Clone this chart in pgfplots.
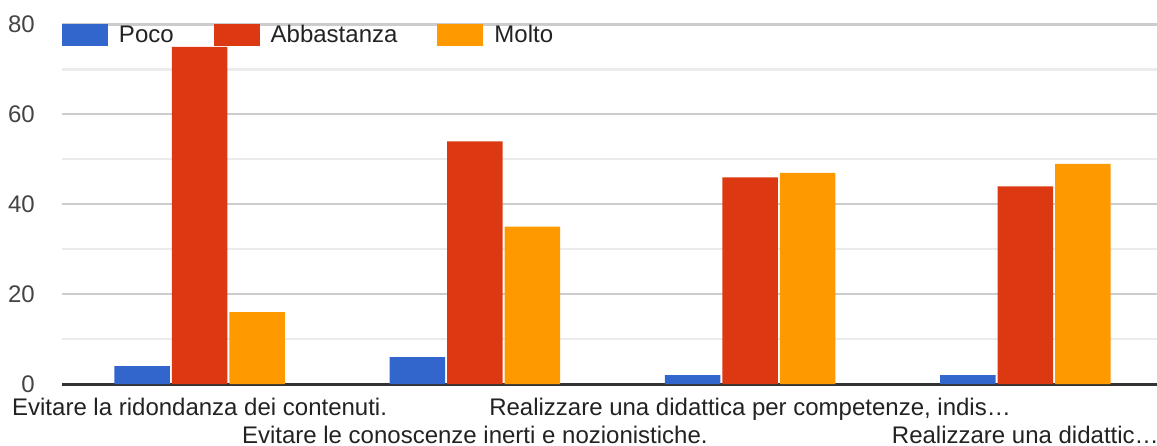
\documentclass[border=0pt]{standalone}
\usepackage{fontspec}
\setmainfont{Liberation Sans}
\usepackage{pgfplots}
\pgfplotsset{compat=1.18}
\definecolor{cPoco}{HTML}{3366CC}
\definecolor{cAbb}{HTML}{DC3912}
\definecolor{cMolto}{HTML}{FF9900}
\definecolor{gridmaj}{HTML}{CCCCCC}
\definecolor{gridmin}{HTML}{EBEBEB}
\definecolor{baseline}{HTML}{333333}
\definecolor{txt}{HTML}{222222}
\definecolor{ticktxt}{HTML}{444444}
\newcommand\F{\fontsize{24}{28}\selectfont}
\begin{document}
\begin{tikzpicture}
\useasboundingbox (-62pt,-61pt) rectangle (1095pt,384pt);
\begin{axis}[
  scale only axis, width=1101pt, height=359.5pt,
  ymin=0, ymax=80, xmin=-0.5, xmax=3.5,
  ybar=2pt, bar width=55.5pt,
  axis line style={draw=none},
  major tick length=0pt, minor tick length=0pt,
  ytick={20,40,60,80},
  minor ytick={10,30,50,70},
  ymajorgrids, yminorgrids,
  major grid style={draw=gridmaj, line width=2.2pt},
  minor grid style={draw=gridmin, line width=2.2pt},
  extra y ticks={0},
  extra y tick labels={0},
  extra y tick style={grid=major, major grid style={draw=baseline, line width=3pt}},
  /pgf/number format/assume math mode=true,
  yticklabel style={font=\F, text=ticktxt, anchor=east, inner sep=0pt, xshift=-27pt},
  xtick={0,2},
  xticklabels={{Evitare la ridondanza dei contenuti.},{Realizzare una didattica per competenze, indis…}},
  extra x ticks={1,3},
  extra x tick labels={{Evitare le conoscenze inerti e nozionistiche.},{Realizzare una didattic…}},
  extra x tick style={xmajorgrids=false, xticklabel style={yshift=-28.5pt}},
  xticklabel style={font=\F, text=txt, anchor=north, inner sep=0pt, yshift=-13.5pt},
  legend style={at={(0,1)}, anchor=west, yshift=-10pt, draw=none, fill=none,
    inner sep=0pt, outer sep=0pt, column sep=0pt,
    /tikz/every even column/.append style={column sep=40pt},
    nodes={inner sep=0pt, text=txt, font=\F}},
  legend columns=-1,
  legend image code/.code={\fill[#1,draw=none] (0pt,-11pt) rectangle (46pt,11pt); \path (57pt,0pt);},
]
\addplot[fill=cPoco, draw=none] coordinates {(0,4) (1,6) (2,2) (3,2)};
\addplot[fill=cAbb, draw=none] coordinates {(0,75) (1,54) (2,46) (3,44)};
\addplot[fill=cMolto, draw=none] coordinates {(0,16) (1,35) (2,47) (3,49)};
\legend{Poco, Abbastanza, Molto}
\end{axis}
\end{tikzpicture}
\end{document}
